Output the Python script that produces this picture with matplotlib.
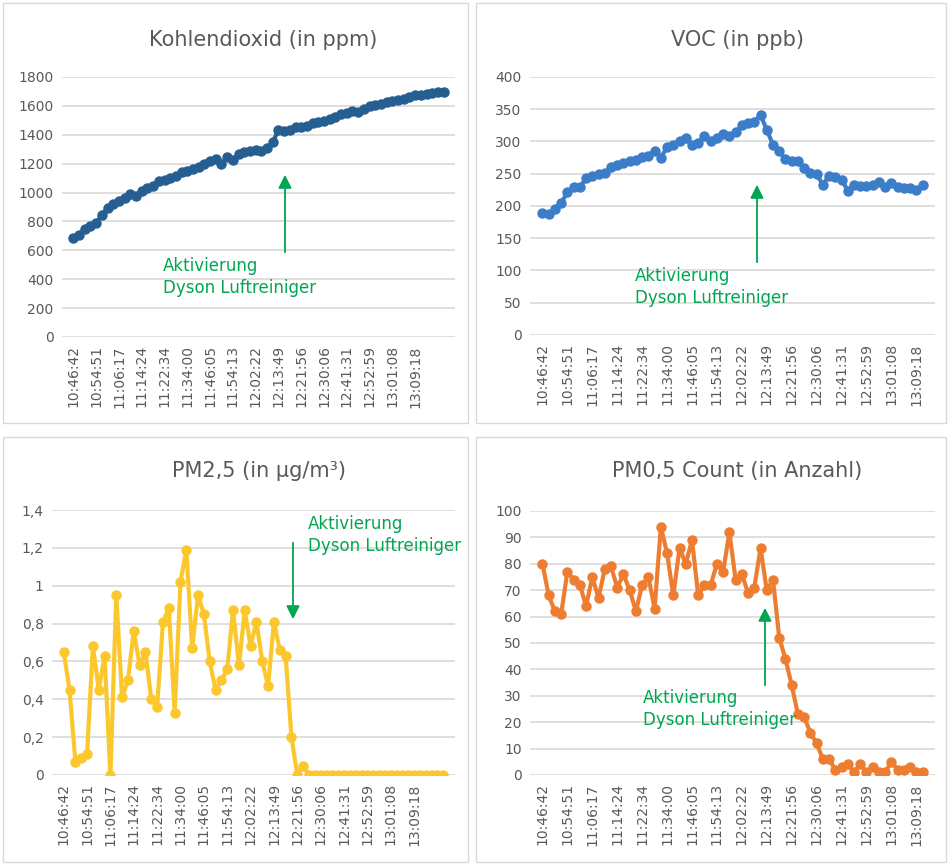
import matplotlib
matplotlib.use("Agg")
import matplotlib.pyplot as plt
from matplotlib.patches import Rectangle

label_times = ["10:46:42", "10:54:51", "11:06:17", "11:14:24", "11:22:34", "11:34:00",
               "11:46:05", "11:54:13", "12:02:22", "12:13:49", "12:21:56", "12:30:06",
               "12:41:31", "12:52:59", "13:01:08", "13:09:18"]

co2 = [687, 705, 745, 768, 790, 845, 895, 918, 942, 965, 988, 977, 1012, 1030, 1046, 1081,
       1088, 1104, 1116, 1139, 1151, 1162, 1174, 1197, 1220, 1232, 1197, 1244, 1225, 1267,
       1278, 1290, 1295, 1290, 1308, 1348, 1434, 1429, 1434, 1452, 1457, 1464, 1480, 1487,
       1492, 1510, 1522, 1545, 1550, 1564, 1557, 1580, 1596, 1603, 1615, 1626, 1633, 1643,
       1650, 1661, 1673, 1677, 1680, 1689, 1696, 1696]

voc = [189, 187, 195, 205, 221, 229, 229, 243, 247, 250, 251, 260, 264, 266, 269,
       272, 276, 278, 286, 275, 291, 295, 300, 305, 294, 297, 309, 300, 305, 311,
       309, 314, 325, 329, 331, 341, 318, 295, 285, 273, 269, 269, 259, 251, 249, 233,
       247, 245, 241, 224, 233, 231, 231, 233, 237, 230, 235, 230, 228, 228,
       225, 232]

pm25 = [0.65, 0.45, 0.07, 0.09, 0.11, 0.68, 0.45, 0.63, 0.0, 0.95, 0.41, 0.50, 0.76, 0.58,
        0.65, 0.40, 0.36, 0.81, 0.88, 0.33, 1.02, 1.19, 0.67, 0.95, 0.85, 0.60, 0.45, 0.50,
        0.56, 0.87, 0.58, 0.87, 0.68, 0.81, 0.60, 0.47, 0.81, 0.66, 0.63, 0.20, 0.0, 0.05,
        0, 0, 0, 0, 0, 0, 0, 0, 0, 0, 0, 0, 0, 0, 0, 0, 0, 0, 0, 0, 0, 0, 0, 0]

pm05 = [80, 68, 62, 61, 77, 74, 72, 64, 75, 67, 78, 79, 71, 76, 70, 62, 72, 75, 63, 94,
        84, 68, 86, 80, 89, 68, 72, 72, 80, 77, 92, 74, 76, 69, 71, 86, 70, 74, 52, 44,
        34, 23, 22, 16, 12, 6, 6, 2, 3, 4, 1, 4, 1, 3, 1, 1, 5, 2, 2, 3, 1, 1]

W, H = 949, 866
fig = plt.figure(figsize=(W / 100, H / 100), dpi=100)
TXT = "#595959"
GRID = "#D9D9D9"
GREEN = "#00A651"

def fx(x): return x / W
def fy(y): return 1 - y / H

for (x0, y0, x1, y1) in [(3, 3, 468, 423), (476, 3, 946, 423), (3, 437, 468, 862), (476, 437, 946, 862)]:
    fig.add_artist(Rectangle((fx(x0), fy(y1)), fx(x1 - x0), (y1 - y0) / H,
                             transform=fig.transFigure, fill=False, edgecolor=GRID, lw=1))

def panel(rect, data, color, title, yticks, ylabels, ymax, title_y):
    x0, y0, x1, y1 = rect
    ax = fig.add_axes([fx(x0), fy(y1), (x1 - x0) / W, (y1 - y0) / H])
    xs = list(range(len(data)))
    ax.plot(xs, data, color=color, lw=3, marker="o", ms=6.5, zorder=3)
    ax.set_ylim(0, ymax)
    ax.set_xlim(-2, len(data) + 1)
    ax.set_yticks(yticks)
    ax.set_yticklabels(ylabels, fontsize=10, color=TXT)
    ticks = list(range(0, len(data), 4))[:len(label_times)]
    ax.set_xticks(ticks)
    ax.set_xticklabels(label_times[:len(ticks)], rotation=90, fontsize=10, color=TXT)
    ax.tick_params(length=0, pad=6)
    for s in ax.spines.values():
        s.set_visible(False)
    ax.grid(axis="y", color=GRID, lw=1.2)
    ax.set_axisbelow(True)
    fig.text(fx((x0 + x1) / 2 + 5), fy(title_y), title, ha="center", va="center", fontsize=15, color=TXT)
    return ax

panel((62, 77, 455, 337), co2, "#255E91", "Kohlendioxid (in ppm)",
      list(range(0, 1801, 200)), [str(v) for v in range(0, 1801, 200)], 1800, 40)
panel((530, 77, 935, 335), voc, "#3B7DC8", "VOC (in ppb)",
      list(range(0, 401, 50)), [str(v) for v in range(0, 401, 50)], 400, 40)
pm_ticks = [0, 0.2, 0.4, 0.6, 0.8, 1.0, 1.2, 1.4]
pm_labels = ["0", "0,2", "0,4", "0,6", "0,8", "1", "1,2", "1,4"]
panel((52, 510, 455, 775), pm25, "#FCC72C", "PM2,5 (in µg/m³)", pm_ticks, pm_labels, 1.4, 471)
panel((530, 511, 935, 775), pm05, "#ED7D31", "PM0,5 Count (in Anzahl)",
      list(range(0, 101, 10)), [str(v) for v in range(0, 101, 10)], 100, 471)

def arrow(xa, ya, xb, yb):
    fig.add_artist(matplotlib.patches.FancyArrowPatch((fx(xa), fy(ya)), (fx(xb), fy(yb)),
                   transform=fig.transFigure, arrowstyle="-|>,head_width=4,head_length=8",
                   color=GREEN, lw=1.3, mutation_scale=1))

def note(x, y):
    fig.text(fx(x), fy(y), "Aktivierung\nDyson Luftreiniger", ha="left", va="top",
             fontsize=12, color=GREEN, linespacing=1.3)

arrow(285, 255, 285, 172); note(163, 257)
arrow(757, 265, 757, 182); note(635, 267)
arrow(293, 540, 293, 622); note(308, 515)
arrow(765, 688, 765, 605); note(643, 689)

fig.savefig("out.png", dpi=100, facecolor="white")
